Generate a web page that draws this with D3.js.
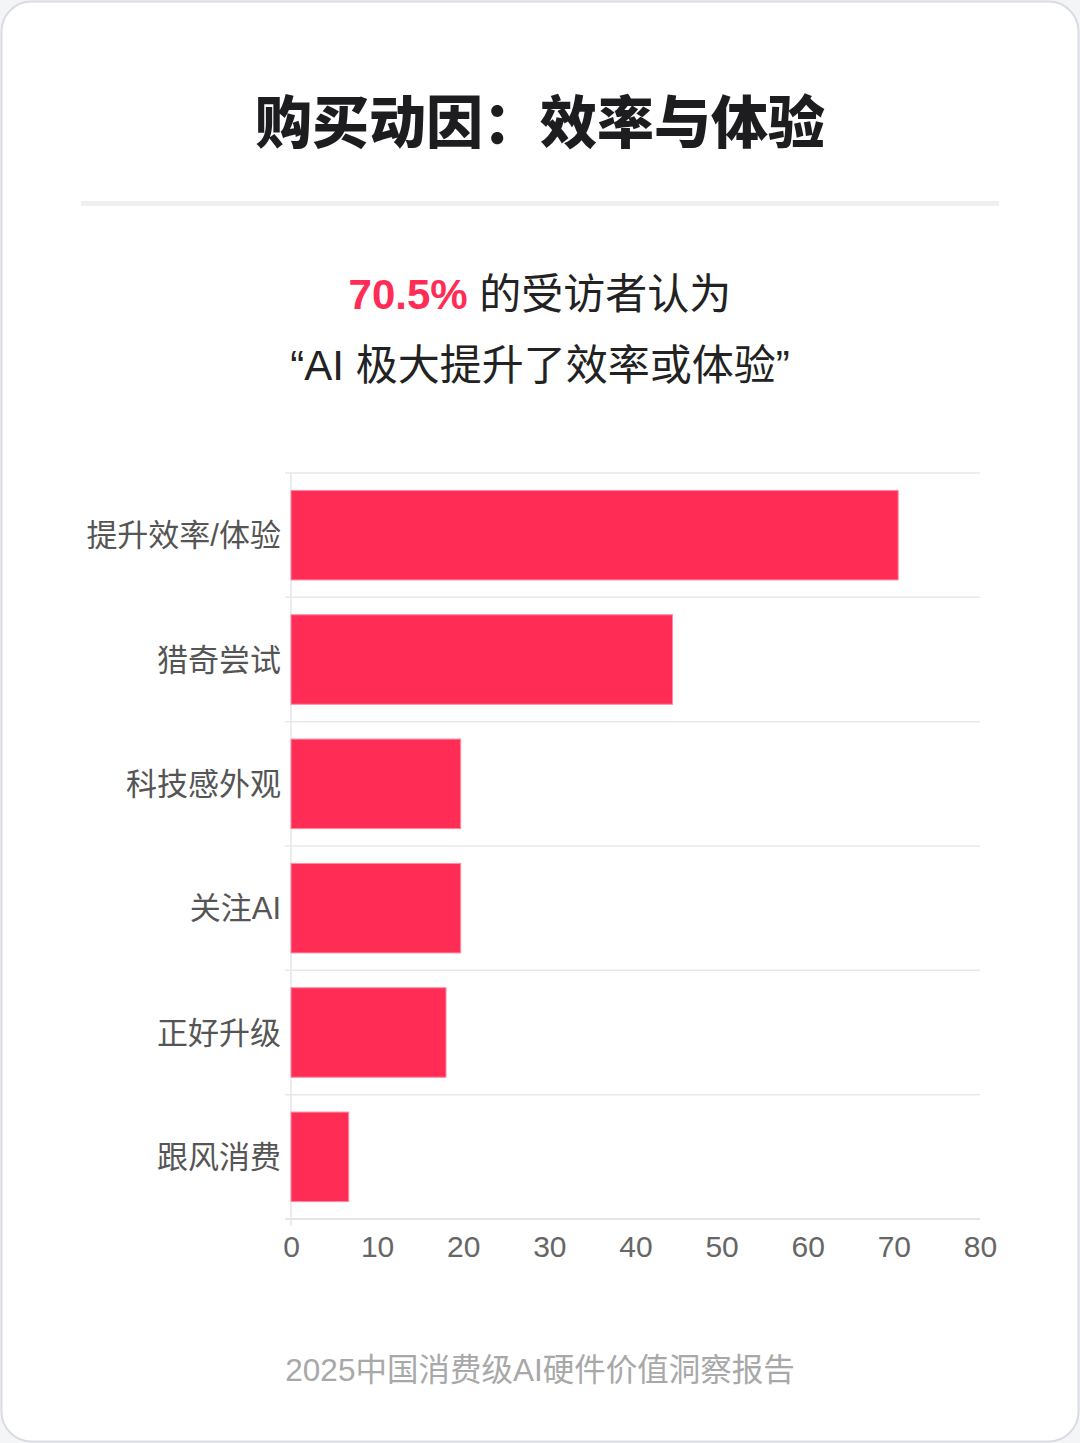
<!DOCTYPE html>
<meta charset="utf-8">
<script src="https://d3js.org/d3.v7.min.js"></script>
<style>
  body { margin: 0; background: #f4f5f7; }
  svg { display: block; }
</style>
<body>
  <div id="chart"></div>
</body>
<script>
  // data
  var categories = ["提升效率/体验", "猎奇尝试", "科技感外观", "关注AI", "正好升级", "跟风消费"];
  var values = [70.5, 44.3, 19.7, 19.7, 18.0, 6.7];
  var xTicks = [0, 10, 20, 30, 40, 50, 60, 70, 80];

  var W = 1080, H = 1443;
  var cjk = "'Liberation Sans', 'Noto Sans CJK SC', sans-serif";
  var red = "#ff2d55";

  var svg = d3.select("#chart").append("svg")
    .attr("width", W).attr("height", H);

  // card
  svg.append("rect")
    .attr("x", 1.5).attr("y", 1.5)
    .attr("width", W - 3).attr("height", H - 3)
    .attr("rx", 30)
    .attr("fill", "#fff")
    .attr("stroke", "#d9dce3")
    .attr("stroke-width", 2);

  // title
  svg.append("text")
    .attr("x", W / 2).attr("y", 143)
    .attr("text-anchor", "middle")
    .style("font-family", "'Noto Sans CJK SC', sans-serif")
    .style("font-weight", 900)
    .style("font-size", "57px")
    .attr("fill", "#1d1d1f")
    .text("购买动因：效率与体验");

  svg.append("rect")
    .attr("x", 81).attr("y", 201)
    .attr("width", 918).attr("height", 5)
    .attr("fill", "#efefef");

  // subtitle
  var sub = svg.append("text")
    .attr("x", W / 2).attr("y", 309)
    .attr("text-anchor", "middle")
    .style("font-family", cjk)
    .style("font-size", "42px")
    .attr("fill", "#222");
  sub.append("tspan").attr("fill", red).style("font-weight", 700).text("70.5%");
  sub.append("tspan").text(" 的受访者认为");

  svg.append("text")
    .attr("x", W / 2).attr("y", 380)
    .attr("text-anchor", "middle")
    .style("font-family", cjk)
    .style("font-size", "42px")
    .attr("fill", "#222")
    .text("“AI 极大提升了效率或体验”");

  // scales
  var x = d3.scaleLinear().domain([0, 80]).range([291, 980]);
  var y = d3.scaleBand().domain(categories).range([473, 1219])
    .paddingInner(0.28).paddingOuter(0.14);

  // horizontal grid at band boundaries
  var bounds = d3.range(categories.length + 1).map(function (i) {
    return y.range()[0] + i * y.step();
  });
  svg.append("g").selectAll("line")
    .data(bounds)
    .enter().append("line")
    .attr("x1", 285).attr("x2", 980)
    .attr("y1", function (d) { return d; })
    .attr("y2", function (d) { return d; })
    .attr("stroke", function (d, i) { return i == categories.length ? "#dcdcdc" : "#e9e9e9"; })
    .attr("stroke-width", 1.5);

  // y axis line
  svg.append("line")
    .attr("x1", x(0)).attr("x2", x(0))
    .attr("y1", 473).attr("y2", 1226)
    .attr("stroke", "#e6e6e6")
    .attr("stroke-width", 1.5);

  // bars
  svg.append("g").selectAll("rect")
    .data(values)
    .enter().append("rect")
    .attr("x", x(0))
    .attr("y", function (d, i) { return y(categories[i]); })
    .attr("width", function (d) { return x(d) - x(0); })
    .attr("height", y.bandwidth())
    .attr("fill", red)
    .attr("stroke", "#ff8aa1")
    .attr("stroke-width", 1);

  // category labels
  svg.append("g").selectAll("text")
    .data(categories)
    .enter().append("text")
    .attr("x", 281)
    .attr("y", function (d) { return y(d) + y.bandwidth() / 2; })
    .attr("dy", "0.36em")
    .attr("text-anchor", "end")
    .style("font-family", cjk)
    .style("font-size", "31px")
    .attr("fill", "#555")
    .text(function (d) { return d; });

  // x tick labels
  var xAxis = svg.append("g")
    .attr("transform", "translate(0,1219)")
    .call(d3.axisBottom(x).tickValues(xTicks).tickSize(0).tickPadding(12));
  xAxis.select(".domain").remove();
  xAxis.selectAll("text")
    .attr("dy", "0.85em")
    .style("font-family", cjk)
    .style("font-size", "30px")
    .attr("fill", "#666");

  // footer
  svg.append("text")
    .attr("x", W / 2).attr("y", 1381)
    .attr("text-anchor", "middle")
    .style("font-family", cjk)
    .style("font-size", "31.5px")
    .attr("fill", "#a8a8a8")
    .text("2025中国消费级AI硬件价值洞察报告");
</script>
